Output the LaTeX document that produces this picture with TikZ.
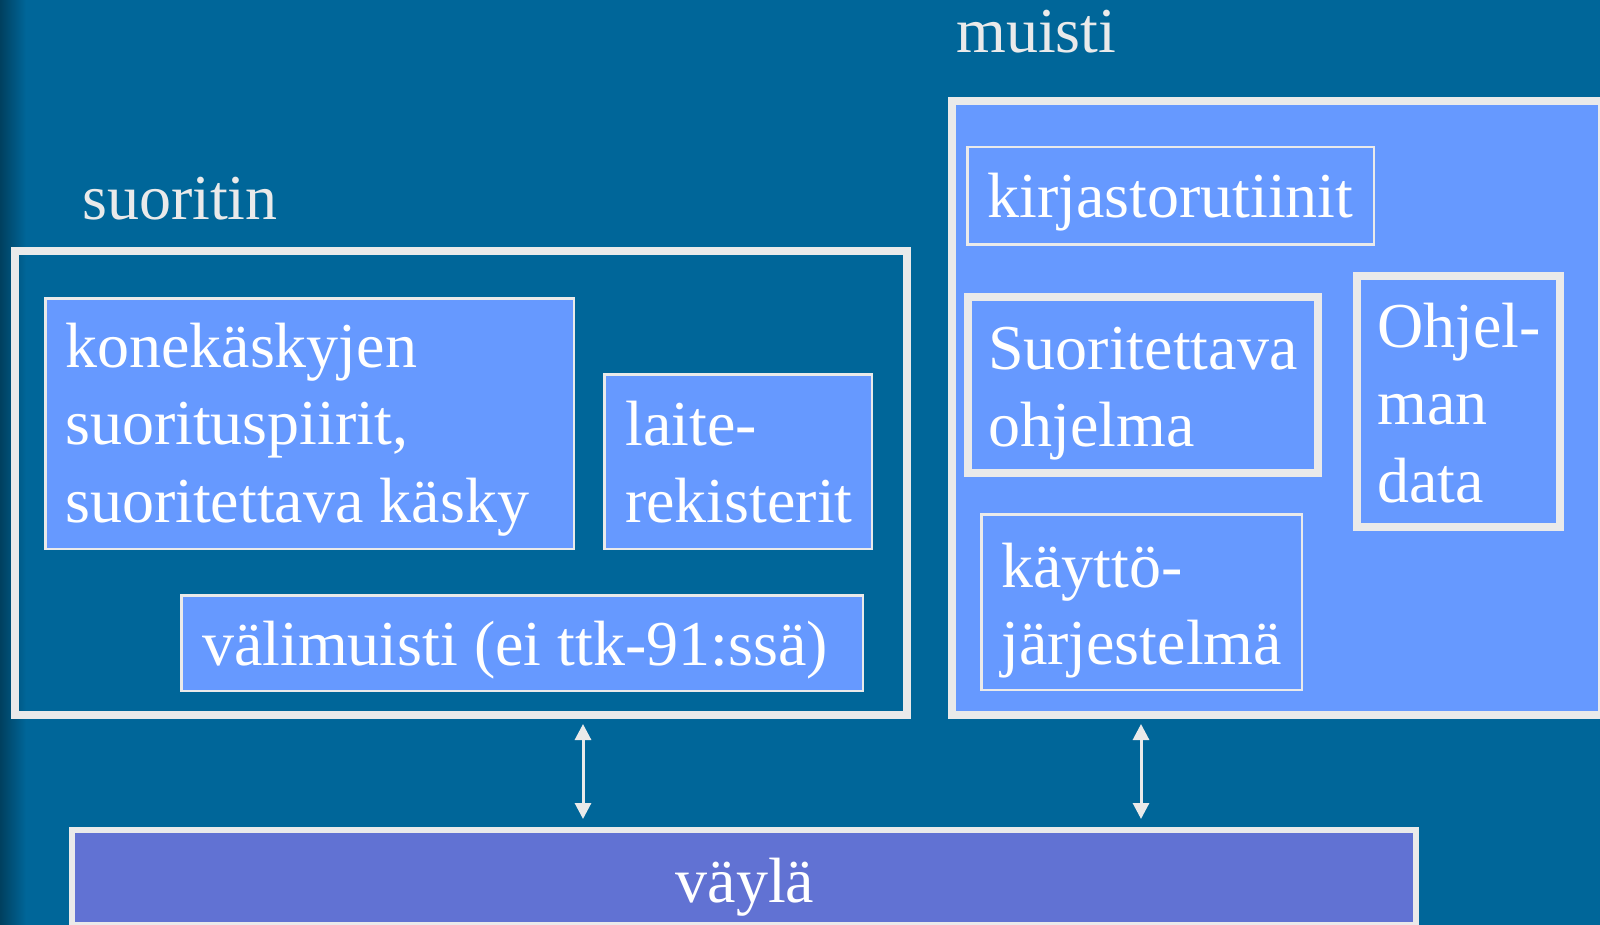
\documentclass[tikz,border=0pt]{standalone}
\usepackage{fontspec}
\setmainfont{Liberation Serif}
\usetikzlibrary{arrows.meta}

\definecolor{slide}{HTML}{006699}
\definecolor{slideshade}{HTML}{00405F}
\definecolor{pale}{HTML}{6699FF}
\definecolor{edge}{HTML}{EAEAEA}
\definecolor{busfill}{HTML}{6172D3}

\tikzset{
  big/.style={font=\fontsize{64}{77.5}\selectfont},
  frame/.style={draw=edge, line width=8pt, rectangle, inner sep=0pt},
  thinbox/.style={draw=edge, fill=pale, line width=2.5pt, rectangle, inner sep=0pt},
  thickbox/.style={draw=edge, fill=pale, line width=8pt, rectangle, inner sep=0pt},
  caption/.style={big, text=edge, inner sep=0pt, anchor=base west},
  boxtext/.style={big, text=white, inner sep=0pt, anchor=base west},
  multitext/.style={boxtext, text width=600pt, align=flush left},
  link/.style={draw=edge, line width=3pt,
    {Triangle[length=16pt,width=16pt]}-{Triangle[length=16pt,width=16pt]}}
}

\begin{document}
\begin{tikzpicture}[x=1pt,y=-1pt]
  % page and background
  \useasboundingbox (0,0) rectangle (1600,925);
  \fill[slide] (0,0) rectangle (1600,925);
  \shade[left color=slideshade, right color=slide] (0,0) rectangle (26,925);
  \clip (0,0) rectangle (1600,925);

  % processor
  \node[caption] (cpulabel) at (82,220) {suoritin};
  \node[frame, minimum width=892pt, minimum height=464pt] (cpu) at (461,483) {};
  \node[thinbox, minimum width=528.5pt, minimum height=250.5pt] (exec) at (309.5,423.5) {};
  \node[multitext] (exectext) at (65,367) {konekäskyjen\\suorituspiirit,\\suoritettava käsky};
  \node[thinbox, minimum width=267.5pt, minimum height=174.5pt] (regs) at (738,461.5) {};
  \node[multitext] (regstext) at (625,445) {laite-\\rekisterit};
  \node[thinbox, minimum width=681.5pt, minimum height=95.5pt] (cache) at (522,643) {};
  \node[boxtext] (cachetext) at (202,665) {välimuisti (ei ttk-91:ssä)};

  % memory
  \node[caption] (memlabel) at (956,53) {muisti};
  \node[thickbox, minimum width=650pt, minimum height=614pt] (mem) at (1277,408) {};
  \node[thinbox, minimum width=406.5pt, minimum height=97.5pt] (lib) at (1170.5,196) {};
  \node[boxtext] (libtext) at (987,218) {kirjastorutiinit};
  \node[thickbox, minimum width=350pt, minimum height=176pt] (prog) at (1143,385) {};
  \node[multitext] (progtext) at (988,369) {Suoritettava\\ohjelma};
  \node[thickbox, minimum width=203pt, minimum height=251pt] (data) at (1458.5,401.5) {};
  \node[multitext] (datatext) at (1377,347) {Ohjel-\\man\\data};
  \node[thinbox, minimum width=320.5pt, minimum height=175.5pt] (os) at (1141.5,602) {};
  \node[multitext] (ostext) at (1001,587) {käyttö-\\järjestelmä};

  % bus
  \node[draw=edge, fill=busfill, line width=6pt, rectangle, inner sep=0pt,
        minimum width=1344pt, minimum height=95pt] (bus) at (744,877.5) {};
  \node[boxtext, anchor=base] (bustext) at (745,902) {väylä};

  % connections to the bus
  \coordinate (cpux) at (583,0);
  \coordinate (memx) at (1141,0);
  \draw[link, shorten <=5pt, shorten >=8pt] (cpu.south -| cpux) -- (bus.north -| cpux);
  \draw[link, shorten <=5pt, shorten >=8pt] (mem.south -| memx) -- (bus.north -| memx);
\end{tikzpicture}
\end{document}
